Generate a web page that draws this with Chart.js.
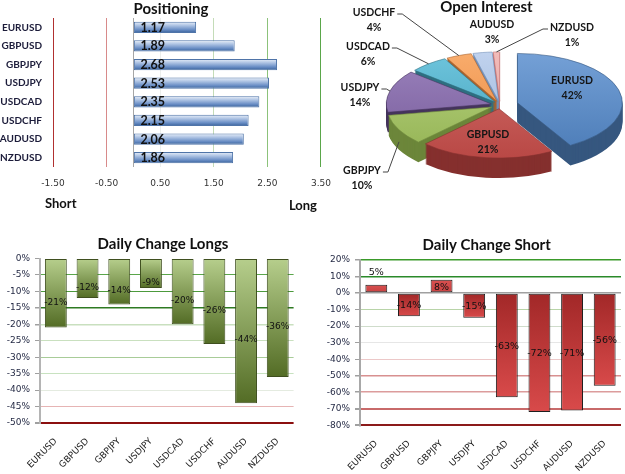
<!DOCTYPE html>
<html>
<head>
<meta charset="utf-8">
<script src="https://cdn.jsdelivr.net/npm/chart.js@4.4.1/dist/chart.umd.min.js"></script>
<style>
  html, body { margin: 0; padding: 0; background: #fff; overflow: hidden; width: 625px; height: 474px; }
  body { position: relative; }
  canvas { position: absolute; }
</style>
</head>
<body>
<canvas id="posChart" width="342" height="222" style="left:0;top:0"></canvas>
<canvas id="oiChart" width="373" height="230" style="left:300px;top:0"></canvas>
<canvas id="longChart" width="326" height="244" style="left:0;top:230px"></canvas>
<canvas id="shortChart" width="353" height="244" style="left:310px;top:230px"></canvas>
<script>
// ---- data ----
const pairs = ['EURUSD', 'GBPUSD', 'GBPJPY', 'USDJPY', 'USDCAD', 'USDCHF', 'AUDUSD', 'NZDUSD'];
const positioning = [1.17, 1.89, 2.68, 2.53, 2.35, 2.15, 2.06, 1.86];
const positionTicks = [-1.5, -0.5, 0, 0.5, 1.5, 2.5, 3.5];
const openInterest = [42, 21, 10, 14, 6, 4, 3, 1];
const changeLongs = [-21, -12, -14, -9, -20, -26, -44, -36];
const longTicks = [0, -5, -10, -15, -20, -25, -30, -35, -40, -45, -50];
const changeShorts = [5, -14, 8, -15, -63, -72, -71, -56];
const shortTicks = [20, 10, 0, -10, -20, -30, -40, -50, -60, -70, -80];

// ---- styles ----
const SMALL = "'DejaVu Sans', Verdana, sans-serif";
const HEAD = "Lato, 'Open Sans', sans-serif";
const TITLE_FONT = { family: HEAD, size: 15, weight: 'bold' };

const posGrid = ['#b03030', '#d88a8a', '#a6a6a6', '#eceeec', '#c4dcb8', '#8cc27a', '#5aa64a'];
const longGrid = ['rgba(0,0,0,0)', '#5aa64a', '#4c9a3c', '#2e7a22', '#c9e0bf', '#c9e0bf', '#a8cc98', '#c8e2c0', '#e4ebe0', '#e6b4b4', '#8b0f0f'];
const longGridWidth = [1, 1, 1, 1.5, 1.5, 1, 1, 1, 1, 1, 2];
const shortGrid = ['#3a9a2a', '#2a8a2a', '#a0a0a0', '#b8d4a8', '#cfdccb', '#e6e6e6', '#ecc8c8', '#d89090', '#dc9c9c', '#c86a6a', '#8b1a1a'];
const shortGridWidth = [1.5, 1.5, 1.5, 1, 1, 1, 1, 1.5, 1.5, 2, 2];

const pieTop = ['#4d7db8', '#b94845', '#95b455', '#785c9b', '#44a3bd', '#ec8a42', '#9cb6da', '#e49a98'];
const pieGlow = ['#74a0d6', '#d06c68', '#b4d07c', '#9a82bc', '#6ec4dc', '#f8ac6c', '#c0d2ee', '#f2bcba'];
const pieSide = ['#36577f', '#85302e', '#6c863a', '#45345c', '#2e6f80', '#a8622c', '#7390b8', '#c07272'];
const pieExplode = [18, 8, 9, 9, 8, 8, 8, 8];
const pieLabelPos = [[72, -17], [-12, 37], [-138, 73], [-140, -10], [-132, -51], [-126, -85], [-8, -73], [72, -70]];
const pieLeader = [false, false, true, true, true, true, false, true];
const SQUASH = 0.47;
const DEPTH = 20;

const colorAt = (ticks, colors) => c => colors[ticks.indexOf(c.tick.value)] || '#ddd';

// a scriptable colour keeps every bar on its own options object
const flat = col => () => col;

// the source centres its titles a little off the plot area
const shiftTitle = dx => ({
    id: 'shiftTitle',
    afterLayout(chart) {
        const t = chart.titleBlock;
        if (t) { t.left += dx; t.right += dx; }
    }
});

// paints each bar with a gradient taken from its own drawn geometry
function barShading(makeStops) {
    return {
        id: 'barShading',
        beforeDatasetsDraw(chart) {
            const ctx = chart.ctx;
            chart.getDatasetMeta(0).data.forEach((bar, i) => {
                let g;
                if (bar.horizontal) {
                    const half = bar.height / 2;
                    g = ctx.createLinearGradient(0, bar.y - half, 0, bar.y + half);
                } else {
                    if (Math.abs(bar.y - bar.base) < 1) return;
                    g = ctx.createLinearGradient(0, bar.base, 0, bar.y);
                }
                makeStops(i).forEach(([at, col]) => g.addColorStop(at, col));
                bar.options.backgroundColor = g;
            });
        }
    };
}

// value labels for the column charts
function columnLabels(shift, font) {
    return {
        id: 'columnLabels',
        afterDatasetsDraw(chart) {
            const ctx = chart.ctx;
            const values = chart.data.datasets[0].data;
            ctx.save();
            ctx.font = font;
            ctx.fillStyle = '#111';
            ctx.textAlign = 'center';
            ctx.textBaseline = 'middle';
            chart.getDatasetMeta(0).data.forEach((bar, i) => {
                const h = Math.abs(bar.base - bar.y);
                let y = (bar.y + bar.base) / 2 + shift;
                if (h < 12) y = Math.min(bar.y, bar.base) - 12;
                ctx.fillText(values[i] + '%', bar.x, y);
            });
            ctx.restore();
        }
    };
}

// ---- Positioning ----
const positionLabels = {
    id: 'positionLabels',
    afterDatasetsDraw(chart) {
        const ctx = chart.ctx;
        const x0 = chart.scales.x.getPixelForValue(0);
        ctx.save();
        ctx.font = `bold 12.5px ${HEAD}`;
        ctx.fillStyle = '#111';
        ctx.textBaseline = 'middle';
        chart.getDatasetMeta(0).data.forEach((bar, i) => {
            ctx.fillText(positioning[i].toFixed(2), x0 + 7, bar.y + 0.5);
        });
        ctx.font = `bold 13px ${HEAD}`;
        const { left, right, bottom } = chart.chartArea;
        ctx.textAlign = 'left';
        ctx.fillText('Short', left - 8, bottom + 37);
        ctx.textAlign = 'right';
        ctx.fillText('Long', right - 4, bottom + 39);
        ctx.restore();
    }
};

new Chart(document.getElementById('posChart'), {
    type: 'bar',
    data: {
        labels: pairs,
        datasets: [{
            data: positioning,
            backgroundColor: flat('#6d8fc4'),
            borderColor: '#4f74a8',
            borderWidth: 1,
            borderSkipped: false,
            barPercentage: 0.6,
            categoryPercentage: 1
        }]
    },
    options: {
        indexAxis: 'y',
        responsive: false,
        animation: false,
        events: [],
        layout: { padding: { left: 0, right: 20, top: 0, bottom: 0 } },
        plugins: {
            legend: { display: false },
            tooltip: { enabled: false },
            title: { display: true, text: 'Positioning', color: '#111', font: TITLE_FONT, padding: { top: 0, bottom: 0 } }
        },
        scales: {
            x: {
                min: -1.5,
                max: 3.5,
                afterBuildTicks: s => { s.ticks = positionTicks.map(v => ({ value: v })); },
                afterFit: s => { s.height = 55; },
                grid: { color: colorAt(positionTicks, posGrid), drawTicks: false },
                border: { display: false },
                ticks: {
                    padding: 11,
                    color: '#333',
                    font: { family: SMALL, size: 9 },
                    callback: v => v === 0 ? '' : v.toFixed(2)
                }
            },
            y: {
                afterFit: s => { s.width = 53; },
                grid: { display: false, drawTicks: false },
                border: { display: false },
                ticks: { padding: 11, color: '#1c1c3a', font: { family: HEAD, size: 10, weight: 'bold' } }
            }
        }
    },
    plugins: [
        barShading(() => [[0, '#eaf0f9'], [0.3, '#b4c8e6'], [0.7, '#6b8fc6'], [1, '#38619a']]),
        positionLabels,
        shiftTitle(10)
    ]
});

// ---- Open Interest (3D exploded pie) ----
const pie3d = {
    id: 'pie3d',
    beforeDatasetDraw() {
        return false; // faces are painted below, lifted and squashed
    },
    beforeDatasetsDraw(chart) {
        const ctx = chart.ctx;
        const arcs = chart.getDatasetMeta(0).data;
        const cy = arcs[0].y;
        const R = arcs[0].outerRadius;
        const shift = arcs.map((arc, i) => {
            const mid = (arc.startAngle + arc.endAngle) / 2;
            return [Math.cos(mid) * pieExplode[i], Math.sin(mid) * pieExplode[i]];
        });
        const paint = (arc, i, fill, edge, drop) => {
            const face = Object.create(arc);
            face.options = Object.assign({}, arc.options, {
                backgroundColor: fill, borderColor: edge || 'rgba(0,0,0,0)', borderWidth: edge ? 0.8 : 0, offset: 0
            });
            ctx.save();
            ctx.translate(shift[i][0], shift[i][1] + drop);
            face.draw(ctx);
            ctx.restore();
        };
        ctx.save();
        ctx.translate(0, cy);
        ctx.scale(1, SQUASH);
        ctx.translate(0, -cy);
        // side walls: the slice shape pushed down layer by layer
        for (let k = DEPTH; k >= 1; k--) {
            arcs.forEach((arc, i) => paint(arc, i, pieSide[i], null, k / SQUASH));
        }
        arcs.forEach((arc, i) => {
            const g = ctx.createLinearGradient(0, cy - R, 0, cy + R);
            g.addColorStop(0, pieGlow[i]);
            g.addColorStop(1, pieTop[i]);
            paint(arc, i, g, pieSide[i], 0);
        });
        ctx.restore();
    },
    afterDraw(chart) {
        const ctx = chart.ctx;
        const arcs = chart.getDatasetMeta(0).data;
        ctx.save();
        ctx.font = `bold 10.5px ${HEAD}`;
        ctx.textAlign = 'center';
        ctx.textBaseline = 'middle';
        arcs.forEach((arc, i) => {
            const lx = arc.x + pieLabelPos[i][0];
            const ly = arc.y + pieLabelPos[i][1];
            if (pieLeader[i]) {
                const mid = (arc.startAngle + arc.endAngle) / 2;
                const r = arc.outerRadius + pieExplode[i];
                const tx = arc.x + Math.cos(mid) * r;
                let ty = arc.y + Math.sin(mid) * r * SQUASH;
                if (Math.sin(mid) > 0.3) ty += DEPTH * 0.6;
                const w = ctx.measureText(pairs[i]).width;
                const side = tx > lx ? 1 : -1;
                const sx = lx + side * (w / 2 + 2), sy = ly - 6;
                ctx.beginPath();
                ctx.moveTo(sx, sy);
                ctx.lineTo(sx + side * 5, sy);
                ctx.lineTo(tx, ty);
                ctx.strokeStyle = '#454545';
                ctx.lineWidth = 1;
                ctx.stroke();
            }
            ctx.fillStyle = '#151515';
            ctx.fillText(pairs[i], lx, ly - 7.5);
            ctx.fillText(openInterest[i] + '%', lx, ly + 7.5);
        });
        ctx.restore();
    }
};

new Chart(document.getElementById('oiChart'), {
    type: 'pie',
    data: {
        labels: pairs,
        datasets: [{
            data: openInterest,
            backgroundColor: pieTop,
            borderWidth: 0,
            radius: 105,
            clip: false
        }]
    },
    options: {
        responsive: false,
        animation: false,
        events: [],
        layout: { padding: { left: 27, right: 0, top: 0, bottom: 35 } },
        plugins: {
            legend: { display: false },
            tooltip: { enabled: false },
            title: {
                display: true, text: 'Open Interest', color: '#111',
                font: { family: HEAD, size: 15, weight: 'bold', lineHeight: 1 },
                padding: { top: 0, bottom: 0 }
            }
        }
    },
    plugins: [pie3d, shiftTitle(-13.5)]
});

// ---- Daily Change Longs ----
new Chart(document.getElementById('longChart'), {
    type: 'bar',
    data: {
        labels: pairs,
        datasets: [{
            data: changeLongs,
            backgroundColor: flat('#86a356'),
            borderColor: '#3f4f1f',
            borderWidth: 1,
            borderSkipped: false,
            barPercentage: 0.69,
            categoryPercentage: 1
        }]
    },
    options: {
        responsive: false,
        animation: false,
        events: [],
        layout: { padding: { left: 0, right: 32.4, top: 0, bottom: 0 } },
        plugins: {
            legend: { display: false },
            tooltip: { enabled: false },
            title: { display: true, text: 'Daily Change Longs', color: '#111', font: TITLE_FONT, padding: { top: 5, bottom: 5.5 } }
        },
        scales: {
            x: {
                afterFit: s => { s.height = 51; },
                grid: { display: false, drawTicks: false },
                border: { display: false },
                ticks: { minRotation: 45, maxRotation: 45, padding: 13, color: '#222', font: { family: SMALL, size: 9 } }
            },
            y: {
                min: -50,
                max: 0,
                afterBuildTicks: s => { s.ticks = longTicks.map(v => ({ value: v })); },
                afterFit: s => { s.width = 40; },
                grid: { color: colorAt(longTicks, longGrid), lineWidth: c => longGridWidth[longTicks.indexOf(c.tick.value)] || 1, tickLength: 5, tickColor: '#a0a0a0' },
                border: { color: '#b4b4b4', width: 2 },
                ticks: { padding: 5, color: '#1f2540', font: { family: SMALL, size: 9 }, callback: v => v + '%' }
            }
        }
    },
    plugins: [
        barShading(() => [[0, '#b6ce8c'], [1, '#536c25']]),
        columnLabels(9, `9px ${SMALL}`),
        shiftTitle(16.2)
    ]
});

// ---- Daily Change Short ----
new Chart(document.getElementById('shortChart'), {
    type: 'bar',
    data: {
        labels: pairs,
        datasets: [{
            data: changeShorts,
            backgroundColor: flat('#cc3e3e'),
            borderColor: '#1e1e1e',
            borderWidth: 1,
            borderSkipped: false,
            barPercentage: 0.67,
            categoryPercentage: 1
        }]
    },
    options: {
        responsive: false,
        animation: false,
        events: [],
        layout: { padding: { left: 0, right: 42, top: 0, bottom: 0 } },
        plugins: {
            legend: { display: false },
            tooltip: { enabled: false },
            title: { display: true, text: 'Daily Change Short', color: '#111', font: TITLE_FONT, padding: { top: 6.5, bottom: 5.5 } }
        },
        scales: {
            x: {
                afterFit: s => { s.height = 48.7; },
                grid: { display: false, drawTicks: false },
                border: { display: false },
                ticks: { minRotation: 45, maxRotation: 45, padding: 13, color: '#222', font: { family: SMALL, size: 9 } }
            },
            y: {
                min: -80,
                max: 20,
                afterBuildTicks: s => { s.ticks = shortTicks.map(v => ({ value: v })); },
                afterFit: s => { s.width = 50; },
                grid: { color: colorAt(shortTicks, shortGrid), lineWidth: c => shortGridWidth[shortTicks.indexOf(c.tick.value)] || 1, tickLength: 5, tickColor: '#a0a0a0' },
                border: { color: '#a8a8a8', width: 2 },
                ticks: { padding: 5, color: '#1f2540', font: { family: SMALL, size: 9 }, callback: v => v + '%' }
            }
        }
    },
    plugins: [
        barShading(i => changeShorts[i] > 0 ? [[0, '#c94242'], [1, '#d85050']] : [[0, '#a22828'], [1, '#d84a4a']]),
        columnLabels(1, `9.5px ${SMALL}`),
        shiftTitle(21.2)
    ]
});
</script>
</body>
</html>
